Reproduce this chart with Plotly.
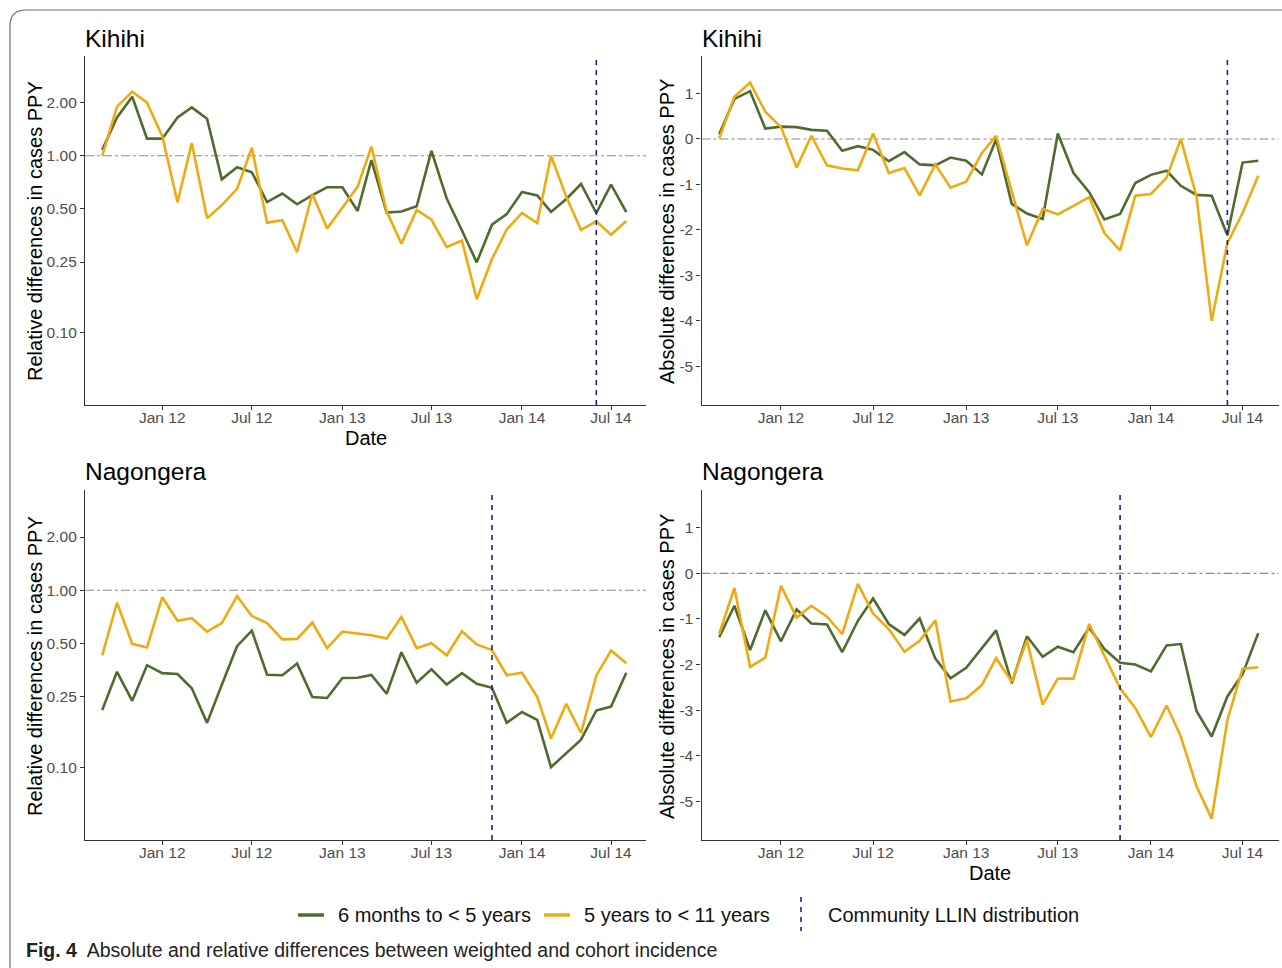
import plotly.graph_objects as go

W, H = 1282, 968

months = [
    "2011-09-01", "2011-10-01", "2011-11-01", "2011-12-01",
    "2012-01-01", "2012-02-01", "2012-03-01", "2012-04-01", "2012-05-01", "2012-06-01",
    "2012-07-01", "2012-08-01", "2012-09-01", "2012-10-01", "2012-11-01", "2012-12-01",
    "2013-01-01", "2013-02-01", "2013-03-01", "2013-04-01", "2013-05-01", "2013-06-01",
    "2013-07-01", "2013-08-01", "2013-09-01", "2013-10-01", "2013-11-01", "2013-12-01",
    "2014-01-01", "2014-02-01", "2014-03-01", "2014-04-01", "2014-05-01", "2014-06-01",
    "2014-07-01", "2014-08-01",
]

# Kihihi - relative differences
kihihi_rel_u5 = [1.08, 1.65, 2.16, 1.25, 1.25, 1.65, 1.88, 1.62, 0.735, 0.861, 0.807, 0.547,
                 0.611, 0.531, 0.598, 0.663, 0.663, 0.487, 0.946, 0.477, 0.483, 0.517, 1.066, 0.573,
                 0.377, 0.249, 0.407, 0.467, 0.624, 0.596, 0.481, 0.569, 0.692, 0.474, 0.686, 0.479]
kihihi_rel_5_11 = [1.00, 1.90, 2.31, 2.00, 1.29, 0.545, 1.18, 0.442, 0.526, 0.649, 1.11, 0.418,
                   0.432, 0.284, 0.609, 0.387, 0.508, 0.669, 1.127, 0.483, 0.318, 0.494, 0.434, 0.304,
                   0.331, 0.154, 0.260, 0.382, 0.475, 0.416, 1.00, 0.586, 0.380, 0.425, 0.357, 0.427]

# Kihihi - absolute differences
kihihi_abs_u5 = [0.10, 0.88, 1.05, 0.23, 0.27, 0.26, 0.20, 0.18, -0.26, -0.16, -0.24, -0.49,
                 -0.29, -0.56, -0.58, -0.41, -0.48, -0.78, -0.01, -1.43, -1.64, -1.76, 0.12, -0.75,
                 -1.17, -1.77, -1.65, -0.97, -0.79, -0.70, -1.03, -1.23, -1.25, -2.12, -0.52, -0.48]
kihihi_abs_5_11 = [0.01, 0.93, 1.24, 0.60, 0.26, -0.63, 0.07, -0.58, -0.65, -0.69, 0.12, -0.75,
                   -0.64, -1.24, -0.56, -1.07, -0.94, -0.31, 0.07, -1.15, -2.34, -1.54, -1.66, -1.47,
                   -1.28, -2.07, -2.45, -1.25, -1.21, -0.85, 0.00, -1.27, -4.00, -2.29, -1.63, -0.81]

# Nagongera - relative differences
nagongera_rel_u5 = [0.210, 0.346, 0.237, 0.377, 0.340, 0.336, 0.279, 0.178, 0.292, 0.483, 0.591, 0.333,
                    0.331, 0.385, 0.249, 0.246, 0.319, 0.320, 0.332, 0.260, 0.446, 0.300, 0.357, 0.293,
                    0.340, 0.296, 0.281, 0.178, 0.205, 0.185, 0.100, 0.120, 0.143, 0.209, 0.220, 0.342]
nagongera_rel_5_11 = [0.429, 0.850, 0.498, 0.475, 0.914, 0.672, 0.695, 0.583, 0.652, 0.926, 0.716, 0.652,
                      0.528, 0.531, 0.657, 0.471, 0.583, 0.571, 0.557, 0.533, 0.707, 0.471, 0.502, 0.429,
                      0.586, 0.494, 0.459, 0.331, 0.342, 0.249, 0.145, 0.228, 0.156, 0.329, 0.457, 0.387]

# Nagongera - absolute differences
nagongera_abs_u5 = [-1.40, -0.71, -1.68, -0.81, -1.49, -0.79, -1.10, -1.12, -1.73, -1.04, -0.55, -1.11,
                    -1.35, -0.99, -1.87, -2.30, -2.07, -1.63, -1.25, -2.41, -1.38, -1.83, -1.61, -1.73,
                    -1.19, -1.66, -1.96, -2.00, -2.15, -1.58, -1.55, -3.02, -3.58, -2.70, -2.21, -1.31]
nagongera_abs_5_11 = [-1.33, -0.32, -2.05, -1.85, -0.27, -0.97, -0.71, -0.95, -1.33, -0.23, -0.88, -1.22,
                      -1.72, -1.48, -1.03, -2.81, -2.74, -2.45, -1.86, -2.38, -1.47, -2.88, -2.31, -2.31,
                      -1.11, -1.82, -2.52, -2.95, -3.59, -2.90, -3.58, -4.67, -5.38, -3.22, -2.09, -2.06]

llin_kihihi = "2014-06-01"
llin_nagongera = "2013-11-01"

series_names = ["6 months to < 5 years", "5 years to < 11 years"]
llin_label = "Community LLIN distribution"
site_titles = ["Kihihi", "Kihihi", "Nagongera", "Nagongera"]
ytitles = ["Relative differences in cases PPY", "Absolute differences in cases PPY"]

x_tickvals = ["2012-01-01", "2012-07-01", "2013-01-01", "2013-07-01", "2014-01-01", "2014-07-01"]
x_ticktext = ["Jan 12", "Jul 12", "Jan 13", "Jul 13", "Jan 14", "Jul 14"]
rel_tickvals = [0.1, 0.25, 0.5, 1.0, 2.0]
rel_ticktext = ["0.10", "0.25", "0.50", "1.00", "2.00"]
abs_tickvals = [-5, -4, -3, -2, -1, 0, 1]
abs_ticktext = ["-5", "-4", "-3", "-2", "-1", "0", "1"]

GREEN = "#4F6B2F"
YELLOW = "#F0AA10"
NAVY = "#1E1E96"
FONT = "Liberation Sans, Arial, sans-serif"


def px(x):
    return x / W


def py(y):
    return 1 - y / H


panels = [
    ("x", "y", kihihi_rel_u5, kihihi_rel_5_11, llin_kihihi),
    ("x2", "y2", kihihi_abs_u5, kihihi_abs_5_11, llin_kihihi),
    ("x3", "y3", nagongera_rel_u5, nagongera_rel_5_11, llin_nagongera),
    ("x4", "y4", nagongera_abs_u5, nagongera_abs_5_11, llin_nagongera),
]

fig = go.Figure()
shapes = []
for xa, ya, u5, o5, llin in panels:
    fig.add_trace(go.Scatter(x=months, y=u5, mode="lines", xaxis=xa, yaxis=ya,
                             line=dict(color=GREEN, width=2.6), name=series_names[0],
                             showlegend=False))
    fig.add_trace(go.Scatter(x=months, y=o5, mode="lines", xaxis=xa, yaxis=ya,
                             line=dict(color=YELLOW, width=2.6), name=series_names[1],
                             showlegend=False))
    ref = 1 if ya in ("y", "y3") else 0
    shapes.append(dict(type="line", xref=f"{xa} domain", yref=ya, x0=0, x1=1, y0=ref, y1=ref,
                       line=dict(color="#8a8a8a", width=1.1, dash="dashdot"), layer="below"))
    shapes.append(dict(type="line", xref=xa, yref=f"{ya} domain", x0=llin, x1=llin, y0=0, y1=1,
                       line=dict(color=NAVY, width=1.6, dash="5px,5px"), layer="above"))

xdom_l = [px(85), px(646)]
xdom_r = [px(701.5), px(1278.5)]
ydom_t = [py(405), py(55.7)]
ydom_b = [py(840), py(490)]

axis_common = dict(showline=True, linecolor="#333333", linewidth=1.3, ticks="outside",
                   ticklen=4, tickwidth=1.2, tickcolor="#333333", showgrid=False, zeroline=False,
                   tickfont=dict(family=FONT, size=15.5, color="#4d4d4d"), mirror=False)
xrange = ["2011-07-28", "2014-09-10"]


def xax(dom, anchor):
    return dict(domain=dom, anchor=anchor, type="date", range=xrange, ticklabelstandoff=-6,
                tickmode="array", tickvals=x_tickvals, ticktext=x_ticktext, **axis_common)


def yrel(dom, anchor):
    return dict(domain=dom, anchor=anchor, type="log", range=[-1.412, 0.567],
                tickmode="array", tickvals=rel_tickvals, ticktext=rel_ticktext, **axis_common)


def yabs(dom, anchor):
    return dict(domain=dom, anchor=anchor, range=[-5.85, 1.83],
                tickmode="array", tickvals=abs_tickvals, ticktext=abs_ticktext, **axis_common)


annotations = []
title_pos = [(83, 38), (700, 38), (83, 472), (700, 472)]
for t, (x, y) in zip(site_titles, title_pos):
    annotations.append(dict(text=t, x=px(x), y=py(y), xref="paper", yref="paper",
                            xanchor="left", yanchor="middle", showarrow=False,
                            font=dict(family=FONT, size=24.5, color="#000000")))
ytitle_pos = [(ytitles[0], 35, 231), (ytitles[1], 667, 232), (ytitles[0], 35, 666), (ytitles[1], 667, 667)]
for t, x, y in ytitle_pos:
    annotations.append(dict(text=t, x=px(x), y=py(y), xref="paper", yref="paper",
                            xanchor="center", yanchor="middle", textangle=-90, showarrow=False,
                            font=dict(family=FONT, size=20, color="#000000")))
for x, y in [(365.5, 438), (990, 873)]:
    annotations.append(dict(text="Date", x=px(x), y=py(y), xref="paper", yref="paper",
                            xanchor="center", yanchor="middle", showarrow=False,
                            font=dict(family=FONT, size=20, color="#000000")))

# legend (drawn manually)
LY = 915
shapes.append(dict(type="line", xref="paper", yref="paper", x0=px(298), x1=px(324), y0=py(LY), y1=py(LY),
                   line=dict(color=GREEN, width=3.5)))
shapes.append(dict(type="line", xref="paper", yref="paper", x0=px(544), x1=px(570), y0=py(LY), y1=py(LY),
                   line=dict(color=YELLOW, width=3.5)))
shapes.append(dict(type="line", xref="paper", yref="paper", x0=px(801), x1=px(801), y0=py(897), y1=py(931),
                   line=dict(color=NAVY, width=1.6, dash="5px,5px")))
for t, x in [(series_names[0], 336), (series_names[1], 582), (llin_label, 826)]:
    annotations.append(dict(text=t, x=px(x), y=py(LY), xref="paper", yref="paper",
                            xanchor="left", yanchor="middle", showarrow=False,
                            font=dict(family=FONT, size=20, color="#111111")))

# caption
annotations.append(dict(text="<b>Fig. 4</b>  Absolute and relative differences between weighted and cohort incidence",
                        x=px(24), y=py(950), xref="paper", yref="paper", xanchor="left", yanchor="middle",
                        showarrow=False,
                        font=dict(family=FONT, size=19.5, color="#222222")))

# outer rounded border
bx, by, r = 10, 10, 16
path = (f"M {px(bx)},{py(H + 5)} L {px(bx)},{py(by + r)} "
        f"Q {px(bx)},{py(by)} {px(bx + r)},{py(by)} L {px(W + 5)},{py(by)}")
shapes.append(dict(type="path", xref="paper", yref="paper", path=path,
                   line=dict(color="#6e6e6e", width=1.2)))

fig.update_layout(
    width=W, height=H, autosize=False,
    margin=dict(l=0, r=0, t=0, b=0),
    paper_bgcolor="white", plot_bgcolor="white",
    showlegend=False,
    xaxis=xax(xdom_l, "y"), yaxis=yrel(ydom_t, "x"),
    xaxis2=xax(xdom_r, "y2"), yaxis2=yabs(ydom_t, "x2"),
    xaxis3=xax(xdom_l, "y3"), yaxis3=yrel(ydom_b, "x3"),
    xaxis4=xax(xdom_r, "y4"), yaxis4=yabs(ydom_b, "x4"),
    shapes=shapes, annotations=annotations,
    font=dict(family=FONT),
)

fig.write_html("out.html", config={"displayModeBar": False},
               post_script="document.body.style.margin='0';document.body.style.overflow='hidden';")
